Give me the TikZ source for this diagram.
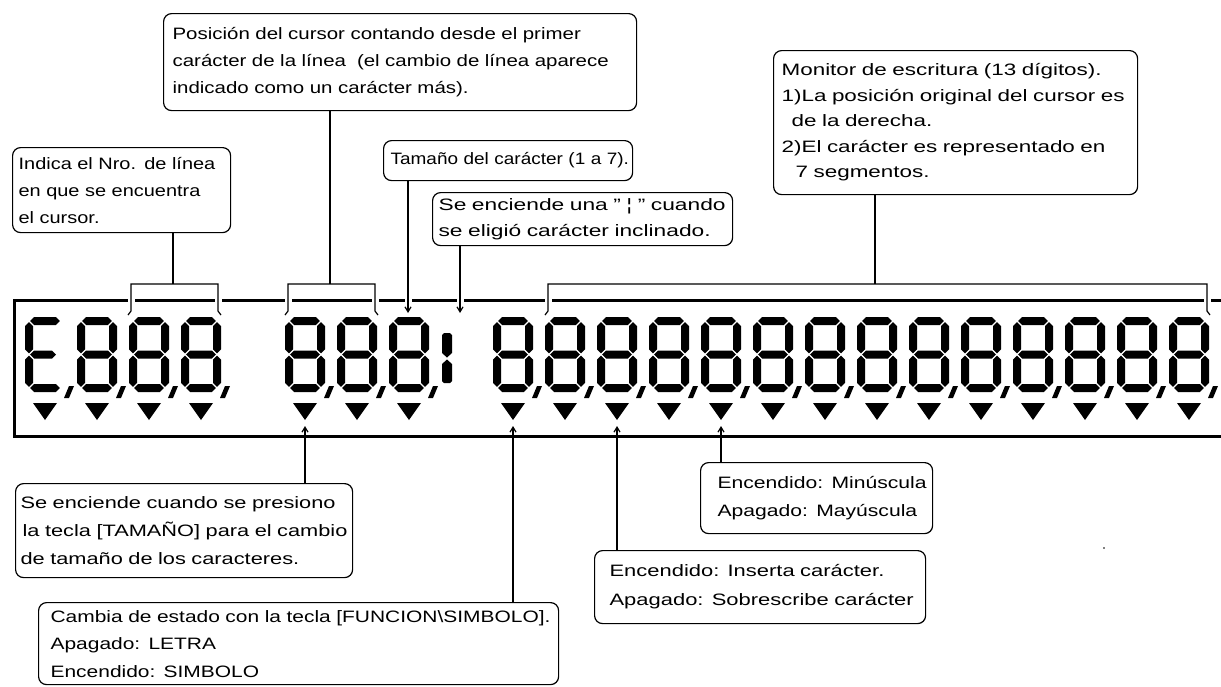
\documentclass[tikz,border=0pt]{standalone}
\usepackage{fontspec}
\setmainfont{Liberation Sans}[FakeStretch=1.28]
\usetikzlibrary{arrows.meta}
\newcommand\dsegH[3]{\fill (#1,#3) -- (#1+4,#3-4) -- (#2-4,#3-4) -- (#2,#3) -- (#2-4,#3+4) -- (#1+4,#3+4) -- cycle;}
\newcommand\dsegV[3]{\fill (#1,#2) -- (#1+4,#2+4) -- (#1+4,#3-4) -- (#1,#3) -- (#1-4,#3-4) -- (#1-4,#2+4) -- cycle;}
\begin{document}
\begin{tikzpicture}[x=1pt,y=-1pt,
  box/.style={draw, line width=1.2pt, rounded corners=8pt, anchor=north west, align=left, inner ysep=0pt},
  txt/.style 2 args={font={\fontsize{16.5}{#1}\selectfont\addfontfeatures{FakeStretch=#2}}},
  conn/.style={line width=1.2pt},
  arr/.style={line width=1.2pt, -{Straight Barb[length=5pt,width=6pt]}},
  lcdframe/.style={line width=3pt},
  halo/.style={fill=white}
]
\useasboundingbox (0,0) rectangle (1221,686);

% display frame
\draw[lcdframe] (1230,300) -- (14,300) -- (14,436) -- (1230,436);

% first character (E)
\dsegH{30.2}{59.8}{321}
\dsegH{30.2}{56}{354.5}
\dsegH{30.2}{59.8}{388}
\dsegV{29}{322.2}{353.3}
\dsegV{29}{355.7}{386.8}

% full digits
\foreach \i in {1,2,3,5,6,7,9,10,...,22}{
  \pgfmathsetmacro\dx{25+52*\i}
  \dsegH{\dx+5.2}{\dx+34.8}{321}
  \dsegH{\dx+5.2}{\dx+34.8}{354.5}
  \dsegH{\dx+5.2}{\dx+34.8}{388}
  \dsegV{\dx+4}{322.2}{353.3}
  \dsegV{\dx+4}{355.7}{386.8}
  \dsegV{\dx+36}{322.2}{353.3}
  \dsegV{\dx+36}{355.7}{386.8}
}
% commas and triangles
\foreach \i in {0,1,2,3,5,6,7,9,10,...,22}{
  \pgfmathsetmacro\dx{25+52*\i}
  \fill (\dx+44,386) -- (\dx+49,386) -- (\dx+44,398) -- (\dx+39,398) -- cycle;
  \fill (\dx+8,403) -- (\dx+32,403) -- (\dx+20,420) -- cycle;
}
% broken bar (italic indicator)
\fill (442,335) -- (444,333) -- (450,333) -- (452,335) -- (452,353) -- (447,357.5) -- (442,353) -- cycle;
\fill (442,364) -- (447,359.5) -- (452,364) -- (452,381) -- (450,383) -- (444,383) -- (442,381) -- cycle;

% gaps in the frame where connectors cross
\foreach \x in {131,218,288,375,408,460,548,1207}{
  \fill[halo] (\x-3.5,297) rectangle (\x+3.5,304);
}

% callout boxes (top)
\node[box, txt={27}{1.24}, text width=455pt, inner xsep=9pt, minimum height=97pt] (P) at (163,13)
 {\mbox{Posición del cursor contando desde el primer}\\\mbox{carácter de la línea\ \ (el cambio de línea aparece}\\\mbox{indicado como un carácter más).}};
\node[box, txt={27}{1.21}, text width=206pt, inner xsep=6pt, minimum height=85pt] (I) at (12,147)
 {\mbox{Indica el Nro. de línea}\\\mbox{en que se encuentra}\\\mbox{el cursor.}};
\node[box, txt={27}{1.15}, text width=235pt, inner xsep=7pt, minimum height=40pt] (T) at (383,140)
 {\mbox{Tamaño del carácter (1 a 7).}};
\node[box, txt={26}{1.38}, text width=288pt, inner xsep=6pt, minimum height=53pt] (S) at (432,192)
 {\mbox{Se enciende una " ¦ " cuando}\\\mbox{se eligió carácter inclinado.}};
\node[box, txt={25.5}{1.36}, text width=348pt, inner xsep=8pt, minimum height=144pt] (M) at (773,50)
 {\mbox{Monitor de escritura (13 dígitos).}\\\mbox{1)La posición original del cursor es}\\\mbox{\hspace{10pt}de la derecha.}\\\mbox{2)El carácter es representado en}\\\mbox{\hspace{14pt}7 segmentos.}};

% callout boxes (bottom)
\node[box, txt={28}{1.32}, text width=327pt, inner xsep=5pt, minimum height=94pt] (SC) at (15,483)
 {\mbox{Se enciende cuando se presiono}\\\mbox{\hspace{2pt}la tecla [TAMAÑO] para el cambio}\\\mbox{de tamaño de los caracteres.}};
\node[box, txt={27.5}{1.27}, text width=496pt, inner xsep=12pt, minimum height=82pt] (C) at (38,602)
 {\mbox{Cambia de estado con la tecla [FUNCION\textbackslash SIMBOLO].}\\\mbox{Apagado: LETRA}\\\mbox{Encendido: SIMBOLO}};
\node[box, txt={28}{1.28}, text width=198pt, inner xsep=17pt, minimum height=71pt] (Min) at (700,462)
 {\mbox{Encendido: Minúscula}\\\mbox{Apagado: Mayúscula}};
\node[box, txt={29}{1.33}, text width=301pt, inner xsep=15pt, minimum height=73pt] (Ins) at (594,550)
 {\mbox{Encendido: Inserta carácter.}\\\mbox{Apagado: Sobrescribe carácter}};

% connector end points
\coordinate (brI) at (173,284);
\coordinate (brP) at (330,284);
\coordinate (brM) at (875,284);
\coordinate (tT) at (408,313);
\coordinate (tS) at (460,313);
\coordinate (t5) at (305,426);
\coordinate (t9) at (513,426);
\coordinate (t11) at (617,426);
\coordinate (t13) at (721,426);

% brackets
\draw[conn] (128,315) -- (131,311) -- (131,284) -- (218,284) -- (218,311) -- (221,315);
\draw[conn] (285,315) -- (288,311) -- (288,284) -- (375,284) -- (375,311) -- (378,315);
\draw[conn] (545,315) -- (548,311) -- (548,284) -- (1207,284) -- (1207,311) -- (1210,315);

% connectors
\draw[conn] (I.south -| brI) -- (brI);
\draw[conn] (P.south -| brP) -- (brP);
\draw[conn] (M.south -| brM) -- (brM);
\draw[arr] (T.south -| tT) -- (tT);
\draw[arr] (S.south -| tS) -- (tS);
\draw[arr] (SC.north -| t5) -- (t5);
\draw[arr] (C.north -| t9) -- (t9);
\draw[arr] (Ins.north -| t11) -- (t11);
\draw[arr] (Min.north -| t13) -- (t13);

% stray dot
\fill (1104,548) circle (0.9pt);
\end{tikzpicture}
\end{document}
